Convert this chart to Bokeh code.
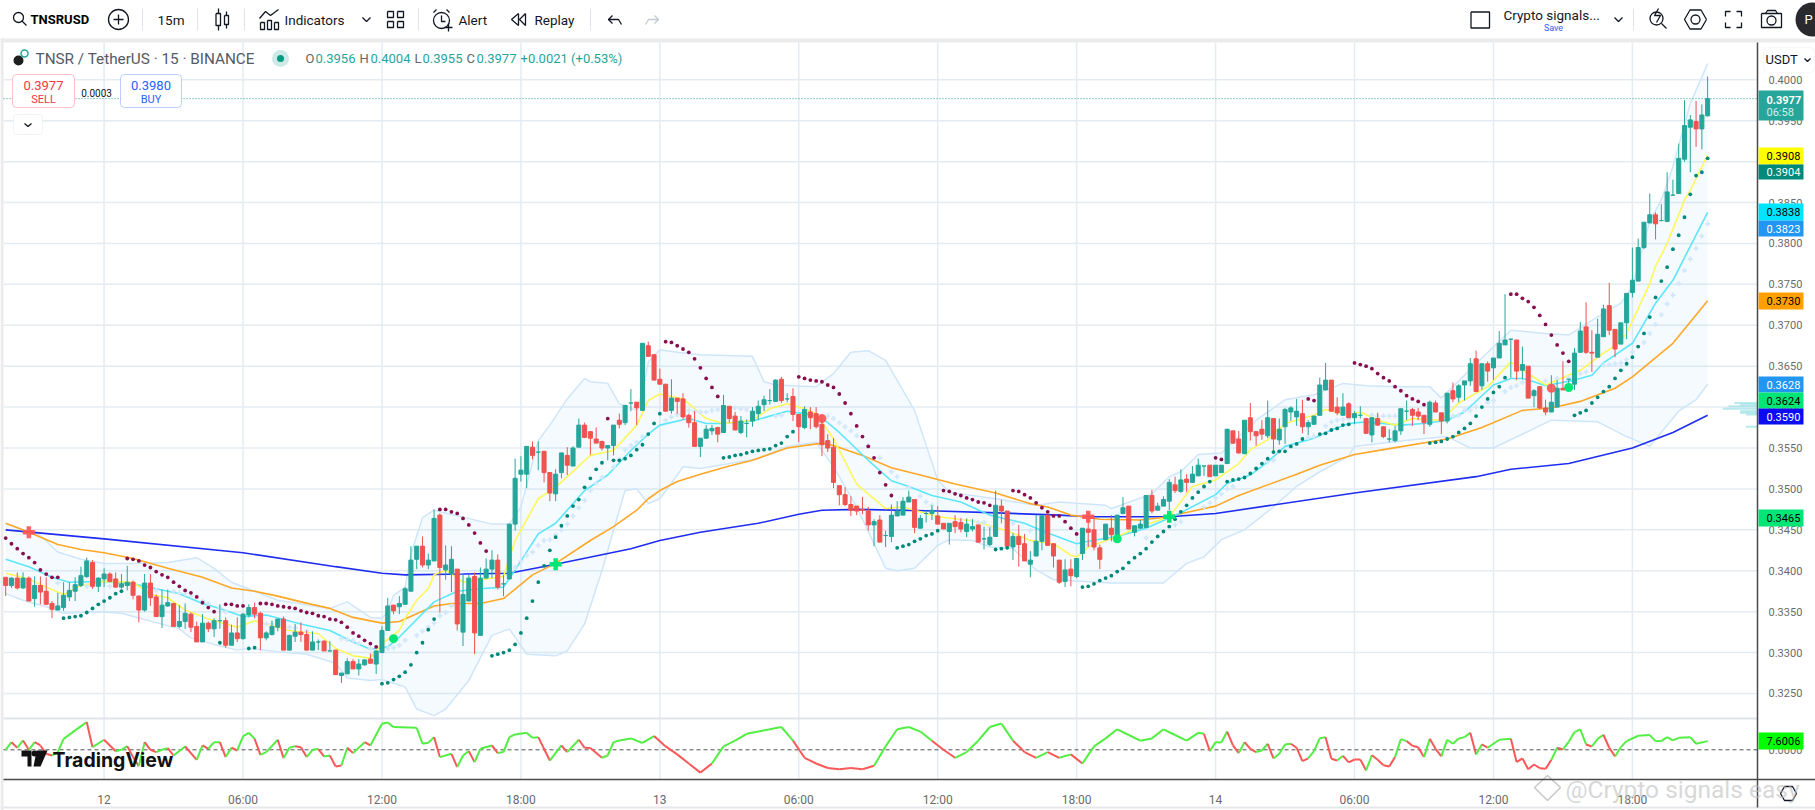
from bokeh.plotting import figure
from bokeh.models import Range1d, FixedTicker, LinearAxis, BoxAnnotation, NumeralTickFormatter
from bokeh.core.properties import value
from bokeh.embed import file_html
from bokeh.resources import INLINE
import numpy as np

TICK = 0.0001  # all price lists below are in ticks of 0.0001 USDT
first_bar = -17  # bars are 15-minute candles; bar 0 is the 12th at 00:00

opens = [3392,3382,3391,3379,3391,3366,3382,3375,3360,3352,
3355,3368,3375,3382,3393,3410,3381,
3390,3396,3390,3380,3382,3386,3369,3352,3385,3368,
3344,3357,3360,3332,3338,3347,3332,3313,3336,3329,
3339,3339,3309,3324,3317,3346,3355,3348,3318,3322,
3331,3341,3303,3320,3325,3322,3303,3313,3314,3302,
3303,3272,3274,3289,3280,3285,3292,3286,3300,3327,
3358,3356,3359,3375,3414,3430,3407,3412,3468,3401,
3396,3402,3325,3363,3393,3321,3391,3402,3413,3384,
3390,3457,3518,3518,3551,3545,3546,3520,3494,3520,
3541,3528,3551,3578,3570,3561,3558,3550,3553,3584,
3581,3605,3606,3596,3675,3664,3634,3628,3596,3611,
3610,3590,3581,3552,3562,3571,3575,3569,3601,3589,
3569,3580,3583,3592,3603,3608,3607,3634,3610,3613,
3591,3575,3594,3592,3579,3559,3551,3504,3493,3481,
3479,3475,3473,3456,3462,3443,3442,3467,3468,3484,
3487,3452,3470,3470,3467,3458,3448,3460,3459,3448,
3451,3456,3439,3432,3442,3479,3473,3429,3442,3433,
3408,3418,3436,3468,3433,3413,3387,3402,3393,3421,
3451,3450,3428,3438,3452,3442,3470,3479,3447,3452,
3453,3492,3474,3479,3485,3505,3497,3512,3508,3516,
3528,3529,3516,3520,3531,3571,3561,3543,3587,3570,
3573,3565,3586,3560,3576,3594,3588,3592,3576,3579,
3590,3621,3633,3600,3590,3604,3587,3590,3586,3566,
3586,3576,3561,3559,3571,3595,3597,3594,3590,3579,
3605,3593,3583,3620,3612,3627,3632,3659,3626,3653,
3648,3660,3676,3683,3682,3645,3650,3614,3625,3599,
3594,3600,3623,3634,3628,3667,3698,3667,3661,3686,
3724,3695,3677,3703,3740,3754,3795,3825,3835,3828,
3827,3859,3861,3903,3942,3949,3940,3956]

highs = [3392,3392,3398,3398,3393,3393,3393,3392,3363,3373,
3386,3386,3392,3405,3416,3413,3392,
3403,3398,3398,3396,3406,3388,3370,3396,3396,3371,
3377,3377,3361,3358,3360,3349,3338,3347,3338,3342,
3359,3343,3334,3343,3348,3359,3361,3350,3326,3339,
3341,3344,3322,3335,3337,3327,3326,3316,3315,3314,
3303,3275,3293,3292,3292,3292,3299,3302,3332,3367,
3358,3369,3380,3430,3430,3442,3421,3475,3470,3431,
3430,3402,3395,3395,3398,3404,3415,3425,3420,3395,
3457,3537,3540,3552,3558,3558,3546,3520,3524,3544,
3551,3552,3586,3581,3570,3575,3559,3553,3578,3592,
3603,3622,3606,3678,3680,3664,3647,3628,3634,3611,
3617,3592,3595,3562,3578,3578,3576,3615,3601,3594,
3589,3585,3600,3608,3614,3622,3634,3637,3617,3623,
3591,3601,3600,3600,3590,3567,3562,3504,3502,3491,
3479,3490,3478,3463,3468,3449,3481,3485,3490,3498,
3487,3468,3474,3480,3479,3458,3458,3468,3464,3464,
3463,3456,3454,3453,3498,3487,3473,3446,3456,3445,
3424,3468,3468,3468,3433,3413,3414,3414,3415,3452,
3471,3464,3432,3457,3468,3468,3490,3479,3455,3462,
3492,3499,3483,3491,3512,3515,3524,3518,3528,3537,
3528,3529,3529,3529,3573,3571,3571,3584,3605,3570,
3584,3608,3586,3586,3599,3601,3610,3609,3584,3589,
3636,3654,3633,3612,3617,3606,3595,3601,3587,3587,
3593,3576,3573,3577,3598,3608,3599,3599,3590,3608,
3608,3593,3617,3630,3628,3632,3660,3669,3653,3656,
3660,3693,3738,3683,3682,3674,3650,3622,3625,3609,
3639,3633,3656,3634,3672,3704,3728,3694,3708,3725,
3752,3695,3703,3739,3795,3806,3826,3861,3838,3848,
3887,3878,3922,3975,3957,3974,3970,4004]

lows = [3369,3379,3377,3378,3363,3356,3359,3359,3342,3352,
3351,3363,3363,3380,3391,3378,3374,
3380,3386,3379,3378,3376,3365,3337,3350,3357,3344,
3330,3356,3332,3330,3329,3325,3313,3313,3325,3319,
3329,3306,3309,3313,3316,3343,3342,3303,3315,3321,
3326,3303,3303,3313,3313,3303,3303,3303,3302,3302,
3273,3263,3274,3280,3272,3284,3287,3274,3300,3327,
3347,3347,3359,3375,3402,3404,3402,3412,3349,3389,
3374,3327,3308,3363,3298,3321,3391,3391,3377,3369,
3390,3449,3509,3501,3536,3523,3508,3485,3485,3513,
3517,3528,3551,3562,3542,3556,3547,3535,3541,3574,
3578,3595,3578,3596,3662,3633,3628,3595,3592,3592,
3585,3575,3552,3539,3561,3566,3557,3569,3581,3572,
3567,3563,3576,3584,3595,3603,3607,3605,3606,3583,
3557,3573,3573,3574,3540,3545,3501,3480,3479,3467,
3468,3469,3449,3430,3435,3429,3435,3467,3468,3484,
3446,3452,3459,3462,3457,3451,3432,3446,3447,3441,
3448,3435,3426,3430,3442,3458,3430,3413,3405,3412,
3392,3418,3425,3431,3404,3384,3380,3381,3391,3413,
3429,3425,3402,3437,3436,3442,3469,3451,3442,3452,
3453,3470,3474,3479,3474,3495,3495,3496,3508,3516,
3516,3515,3516,3520,3531,3555,3543,3543,3559,3553,
3560,3562,3546,3554,3555,3583,3577,3568,3566,3579,
3590,3621,3595,3590,3590,3587,3579,3586,3567,3557,
3577,3562,3557,3557,3566,3584,3577,3584,3567,3576,
3594,3567,3580,3606,3606,3608,3626,3619,3621,3631,
3633,3660,3676,3636,3633,3634,3611,3600,3598,3590,
3594,3600,3621,3621,3621,3667,3665,3643,3661,3686,
3688,3661,3677,3683,3734,3754,3793,3825,3805,3827,
3826,3858,3861,3900,3887,3918,3915,3955]

closes = [3382,3391,3379,3391,3363,3382,3374,3359,3353,3357,
3370,3376,3383,3394,3412,3381,3391,
3396,3387,3380,3384,3386,3370,3352,3385,3367,3344,
3358,3361,3332,3338,3348,3331,3313,3336,3329,3339,
3339,3309,3324,3317,3347,3355,3347,3318,3324,3332,
3341,3303,3321,3325,3322,3303,3313,3313,3302,3302,
3273,3275,3289,3280,3286,3291,3287,3302,3327,3357,
3351,3360,3378,3413,3430,3407,3413,3464,3404,3407,
3414,3335,3371,3391,3324,3391,3402,3413,3380,3384,
3457,3513,3523,3552,3541,3545,3520,3495,3518,3544,
3529,3550,3578,3563,3562,3556,3550,3553,3578,3579,
3602,3605,3599,3678,3662,3633,3628,3595,3611,3607,
3588,3581,3552,3562,3573,3574,3567,3602,3586,3572,
3583,3580,3595,3601,3609,3608,3633,3608,3610,3591,
3576,3597,3587,3576,3554,3550,3508,3493,3481,3474,
3473,3474,3456,3460,3435,3443,3468,3473,3485,3490,
3453,3464,3470,3474,3457,3451,3458,3454,3451,3457,
3454,3435,3439,3441,3480,3473,3430,3442,3432,3412,
3413,3436,3467,3431,3418,3386,3401,3394,3415,3452,
3447,3429,3414,3457,3444,3468,3477,3451,3455,3457,
3492,3473,3479,3487,3508,3498,3511,3508,3518,3529,
3528,3515,3529,3529,3573,3556,3544,3584,3570,3565,
3567,3587,3561,3573,3597,3599,3595,3576,3581,3589,
3627,3633,3595,3593,3600,3587,3592,3590,3568,3587,
3578,3564,3561,3571,3598,3595,3590,3589,3581,3606,
3594,3583,3617,3610,3626,3632,3653,3619,3653,3644,
3660,3678,3682,3683,3644,3652,3611,3620,3599,3594,
3606,3623,3621,3634,3666,3693,3667,3666,3689,3720,
3694,3671,3703,3739,3755,3795,3826,3835,3824,3828,
3863,3859,3904,3944,3951,3940,3957,3977]

blue_bars = [-17,0,24,40,48,52,62,70,78,91,96,103,113,120,124,130,144,153,165,170,184,192,216,237,243,253,264,271,277]
blue_vals = [3450,3439,3422,3405,3397,3395,3396,3397,3408,3427,3437,3447,3458,3469,3474,3475,3473,3471,3468,3466,3466,3470,3495,3515,3524,3531,3550,3569,3590]

orange_bars = [-17,-13,-8,-4,0,5,11,17,22,26,30,34,39,43,48,51,57,60,65,69,74,78,84,88,92,94,96,99,103,108,112,118,124,126,131,136,141,147,154,160,163,167,170,172,179,183,192,196,206,210,216,221,232,238,245,250,255,261,264,271,277]
orange_vals = [3458,3447,3432,3426,3422,3415,3403,3392,3379,3375,3369,3362,3354,3343,3336,3338,3357,3360,3360,3366,3395,3409,3437,3454,3474,3488,3498,3509,3518,3528,3535,3550,3556,3553,3541,3526,3517,3506,3495,3482,3478,3468,3465,3463,3462,3465,3479,3492,3518,3529,3542,3548,3561,3575,3596,3599,3607,3623,3637,3678,3730]

yellow_bars = [-17,-13,-10,-7,-4,0,5,8,11,14,18,23,26,32,37,40,43,46,48,51,52,54,56,57,59,62,69,71,75,78,84,88,92,94,96,100,104,107,112,115,118,121,123,126,130,135,138,144,150,156,160,164,167,168,170,175,179,184,188,192,196,198,201,204,209,211,215,217,220,223,226,231,234,239,243,246,249,255,259,261,263,267,268,270,273,274,277]
yellow_vals = [3397,3390,3380,3371,3382,3387,3386,3371,3367,3352,3341,3331,3339,3327,3323,3305,3296,3293,3311,3327,3342,3364,3378,3395,3401,3386,3393,3437,3488,3502,3541,3547,3578,3608,3616,3610,3586,3580,3584,3598,3604,3598,3592,3561,3506,3476,3478,3466,3461,3449,3437,3433,3419,3417,3429,3442,3454,3466,3503,3511,3531,3548,3560,3580,3590,3597,3590,3594,3584,3578,3586,3584,3605,3625,3655,3641,3627,3645,3666,3675,3690,3751,3772,3800,3853,3865,3908]

cyan_bars = [-17,-13,-9,-6,0,5,9,13,17,20,24,28,34,39,43,46,49,51,57,61,65,69,71,75,78,83,87,91,94,96,101,104,107,112,115,118,121,124,127,132,136,139,143,148,153,159,162,165,168,170,175,180,186,192,194,198,201,204,209,212,215,218,224,228,232,235,240,243,245,247,249,254,257,259,264,268,271,277]
cyan_vals = [3414,3405,3392,3386,3387,3384,3378,3372,3360,3354,3344,3346,3335,3327,3313,3304,3307,3319,3362,3375,3378,3380,3401,3445,3458,3498,3517,3547,3567,3578,3586,3580,3580,3583,3589,3595,3592,3587,3569,3535,3510,3503,3492,3484,3468,3458,3449,3441,3433,3436,3442,3452,3471,3493,3507,3517,3533,3552,3562,3572,3580,3582,3578,3580,3584,3594,3627,3635,3635,3631,3626,3633,3639,3654,3678,3727,3755,3838]

bb_up_bars = [-17,-11,-8,-4,0,5,11,16,19,22,26,30,39,42,46,48,49,50,52,53,55,57,67,70,72,75,77,80,83,84,87,89,92,93,94,96,99,103,112,114,116,123,126,129,132,135,140,144,146,154,161,165,173,174,181,184,186,189,193,199,204,209,214,218,224,229,231,238,243,249,253,257,262,264,267,269,271,274,277]
bb_up_vals = [3458,3443,3423,3414,3409,3409,3410,3416,3403,3386,3375,3364,3354,3362,3343,3342,3350,3370,3380,3420,3465,3474,3457,3457,3478,3559,3578,3610,3635,3631,3629,3604,3596,3618,3655,3670,3667,3664,3662,3631,3627,3625,3641,3667,3669,3657,3596,3511,3496,3488,3480,3484,3480,3476,3494,3515,3521,3542,3544,3584,3609,3615,3629,3626,3625,3625,3611,3660,3694,3690,3688,3706,3727,3747,3828,3853,3894,3971,4020]

bb_lo_bars = [-17,-14,-10,-7,-1,3,13,15,19,23,25,30,35,40,42,46,48,52,54,57,59,63,67,70,73,78,80,83,86,89,90,92,94,96,98,100,103,113,118,123,126,130,135,137,140,144,146,150,153,157,161,164,174,183,187,190,193,197,202,206,210,215,216,221,226,232,236,240,250,258,263,267,272,275,277]
bb_lo_vals = [3372,3364,3356,3348,3350,3348,3329,3318,3310,3303,3305,3301,3298,3287,3269,3266,3267,3258,3231,3223,3231,3266,3321,3329,3298,3296,3302,3335,3400,3474,3498,3500,3482,3488,3507,3527,3525,3537,3552,3557,3527,3478,3403,3400,3403,3431,3438,3437,3429,3427,3401,3389,3385,3385,3409,3417,3438,3450,3478,3503,3521,3540,3552,3556,3560,3564,3550,3550,3584,3582,3564,3552,3595,3609,3628]

sar_red_bars = [-17,-16,-15,-14,-13,-12,-11,-10,-9,-8,4,5,6,7,8,9,10,11,12,13,14,15,16,17,18,19,21,22,23,24,27,28,29,30,31,32,33,34,35,36,37,38,39,40,41,42,43,44,45,46,47,58,59,60,61,62,63,64,65,66,87,97,98,99,100,101,102,103,104,105,106,120,121,122,123,124,125,126,127,128,129,130,131,132,133,134,135,136,145,146,147,148,149,150,151,152,153,157,158,159,160,161,162,163,164,165,166,167,168,192,193,208,209,216,217,218,219,220,221,222,223,224,225,226,227,228,243,244,245,246,247,248,249,250,251,252,253]
sar_red_vals = [3440,3433,3427,3421,3416,3410,3401,3396,3392,3392,3415,3414,3412,3407,3404,3399,3395,3392,3386,3381,3376,3373,3368,3361,3355,3350,3359,3359,3357,3357,3360,3360,3359,3357,3356,3355,3354,3351,3349,3348,3345,3344,3341,3340,3337,3331,3324,3320,3315,3311,3307,3475,3475,3472,3470,3464,3456,3446,3434,3424,3586,3680,3679,3675,3671,3667,3659,3648,3635,3624,3613,3637,3635,3633,3632,3631,3627,3624,3616,3605,3592,3577,3564,3552,3538,3520,3505,3492,3498,3497,3494,3492,3489,3487,3484,3483,3480,3498,3497,3493,3489,3483,3477,3472,3467,3467,3460,3452,3445,3538,3536,3610,3608,3654,3652,3650,3647,3641,3636,3632,3625,3620,3614,3610,3607,3603,3738,3738,3733,3729,3722,3712,3701,3688,3676,3666,3656]

sar_teal_bars = [-7,-6,-5,-4,-3,-2,-1,0,1,2,3,20,25,26,48,49,50,51,52,53,54,55,56,57,67,68,69,70,71,72,73,74,75,76,77,78,79,80,81,82,83,84,85,86,88,89,90,91,92,93,94,95,96,107,108,109,110,111,112,113,114,115,116,117,118,119,137,138,139,140,141,142,143,144,154,155,156,169,170,171,172,173,174,175,176,177,178,179,180,181,182,183,184,185,186,187,188,189,190,191,194,195,196,197,198,199,200,201,202,203,204,205,206,207,210,211,212,213,214,215,229,230,231,232,233,234,235,236,237,238,239,240,241,242,254,255,256,257,258,259,260,261,262,263,264,265,266,267,268,269,270,271,272,273,274,275,276,277]
sar_teal_vals = [3342,3343,3344,3345,3349,3354,3359,3363,3367,3372,3375,3312,3305,3306,3262,3263,3267,3271,3276,3285,3300,3312,3328,3341,3296,3298,3300,3303,3310,3324,3342,3363,3386,3406,3425,3441,3455,3467,3479,3487,3502,3513,3524,3532,3535,3535,3537,3541,3548,3554,3567,3580,3592,3538,3539,3541,3542,3544,3546,3547,3548,3549,3553,3556,3564,3570,3428,3430,3432,3436,3439,3443,3445,3449,3426,3427,3428,3380,3381,3384,3388,3391,3394,3399,3403,3410,3416,3421,3427,3435,3442,3448,3454,3463,3472,3480,3489,3496,3503,3509,3509,3511,3512,3514,3519,3525,3531,3537,3545,3546,3546,3552,3555,3561,3567,3568,3572,3574,3578,3579,3556,3557,3558,3561,3564,3569,3574,3580,3589,3600,3610,3618,3625,3636,3590,3593,3596,3605,3612,3619,3625,3635,3645,3653,3661,3674,3690,3710,3734,3754,3771,3793,3810,3832,3860,3883,3887,3904]

plus_bars = [-8,-3,-2,1,9,12,13,14,15,17,18,20,21,28,29,32,33,35,41,42,43,44,46,49,50,51,52,54,55,56,57,58,59,60,71,72,73,74,75,76,77,78,79,80,81,82,83,84,85,86,88,89,90,91,92,93,97,98,99,100,101,102,103,104,105,106,109,110,111,116,117,125,126,127,128,129,130,132,134,136,137,139,141,142,143,148,150,151,152,153,157,160,162,163,170,180,185,186,190,191,192,193,194,195,201,202,208,209,211,212,213,214,215,219,220,221,222,223,233,234,235,236,237,239,240,242,243,244,245,249,251,253,255,256,259,260,261,262,263,264,266,267,268,269,270,271,272,273,274,275,276,277]
plus_vals = [3385,3381,3381,3381,3376,3375,3373,3372,3369,3363,3360,3355,3350,3335,3335,3331,3330,3326,3317,3316,3315,3311,3305,3305,3306,3309,3315,3321,3326,3331,3336,3345,3349,3357,3404,3412,3419,3423,3431,3437,3438,3444,3450,3457,3467,3477,3486,3498,3507,3514,3527,3536,3548,3553,3557,3564,3584,3588,3591,3594,3596,3595,3594,3594,3596,3597,3599,3598,3597,3589,3590,3589,3586,3581,3576,3571,3565,3553,3538,3521,3515,3502,3491,3484,3480,3462,3461,3459,3459,3453,3458,3449,3445,3441,3432,3440,3456,3460,3478,3483,3489,3494,3500,3503,3533,3535,3563,3564,3577,3582,3584,3585,3586,3590,3589,3589,3589,3589,3589,3590,3596,3596,3600,3606,3608,3619,3624,3626,3630,3632,3635,3636,3641,3643,3651,3652,3653,3654,3658,3667,3679,3690,3701,3713,3726,3737,3751,3767,3781,3794,3809,3824]

sig_plus_red = ([-13,170],[3447,3466])
sig_plus_green = ([78,184],[3408,3466])
sig_dot_red = ([124,250],[3586,3623])
sig_dot_green = ([50,175,253],[3317,3439,3624])

vp_levels = [3605,3603,3601,3598,3595,3593,3591,3576]
vp_lengths = [4,3,5,6,3,3,2,2]

osc_bars = [-17,-16,-15,-14,-13,-12,-11,-10,-9,-8,-7,-5,-3,-2,0,2,3,4,5,6,7,8,9,10,11,12,14,16,17,18,19,20,21,22,23,24,25,26,27,28,30,31,32,33,34,35,36,37,38,39,40,41,42,43,45,46,48,49,50,54,55,56,57,58,60,61,62,63,64,65,67,68,69,70,71,73,74,75,77,79,80,82,83,84,86,87,88,89,
91,93,95,97,99,101,103,105,107,109,111,113,115,117,119,121,123,125,127,129,131,133,135,137,139,141,143,145,147,149,151,153,155,157,159,161,163,165,167,169,171,173,175,177,179,181,183,185,187,
189,190,191,192,193,194,195,196,197,198,199,200,201,202,203,204,205,206,207,208,209,210,211,212,213,214,215,216,217,218,219,220,221,222,223,224,225,226,227,228,229,230,231,232,233,234,235,236,237,238,239,241,243,244,245,246,247,248,249,250,251,252,253,254,255,256,257,258,259,260,261,262,263,265,267,268,269,270,271,272,274,275,277]
osc_vals = [0,6.7,1.8,8.2,0,6.7,3.8,-3.5,-5,-2,9.6,17,24.3,2.3,8.8,-1.2,0,3.2,-6.4,-14.3,6.7,0,-2,0,1.5,-5,2.9,-8.8,3.8,.9,6.7,6.7,-6.4,1.8,-.6,11.7,14.9,9.6,-4.4,-2,8.8,-7.3,1.8,3.2,2.3,-6.4,0,.6,-5.8,-5,-14.6,-13.7,1.8,-2.9,6.7,3.8,22.8,24,19.9,19.3,5.3,6.1,11.1,-6.4,-3.5,-15.2,-5,-1.2,-10.8,.9,3.8,-2.9,-2,11.1,13.5,14.9,10.5,11.1,-9.4,3.8,-2,8.8,1.8,1.5,-7,-5,6.7,8.2,
10,6,12,3,-4,-12,-20,-12,3,8,14,16,18,20,8,-7,-12,-16,-17,-16,-17,-14,3,18,20,16,8,0,-7,-2,8,20,23,8,-2,-7,-2,-7,-4,-12,3,10,18,13,8,10,18,13,8,
14.9,14,-1.2,6.7,6.4,16,3.8,-2.9,6.7,.9,-2,-.6,5.3,-7.6,-3.5,4.7,5.3,1.8,-9.9,-7.6,-1.2,10.2,11.1,-7.9,-9.4,-5.3,-11.1,-8.5,-8.5,-18.1,-4.7,-8.8,-13.5,-14.6,-6.4,9.4,7.6,3.5,2.3,-6.4,9.6,.9,-5.8,8.8,5.3,9.9,11.1,14.9,-4.1,4.7,1.8,8.8,9.6,-10.8,-7.6,-17,-12.9,-16.1,-16.7,-8.8,1.8,.3,7,15.5,17.8,4.7,2.9,9.6,13.2,1.8,-5.8,2.3,7.6,12.3,12.9,7.6,7.6,11.1,8.2,10.5,11.1,5.3,7.6]

price_ticks = [3250,3300,3350,3400,3450,3500,3550,3600,3650,3700,3750,3800,3850,3900,3950,4000]
time_ticks = [0,24,48,72,96,120,144,168,192,216,240,264]
time_labels = ["12","06:00","12:00","18:00","13","06:00","12:00","18:00","14","06:00","12:00","18:00"]

for s in (opens, highs, lows, closes):
    assert len(s) == 295, len(s)

GREEN, RED = "#26a69a", "#ef5350"
GRID = "#e4ecf2"
FONT = "Roboto"
INK = "#131722"

# photo pixels to chart coordinates, used only for the interface furniture
def X(px): return (px - 103.6) / 5.789
def Y(px): return 0.4 - (px - 79.3) * 1.2221e-4
def OY(px): return (749.3 - px) / 1.14
def P(v): return np.asarray(v, float) * TICK

p = figure(width=1815, height=810, x_range=Range1d(X(0), X(1815)), y_range=Range1d(Y(810), Y(0)),
           output_backend="svg", toolbar_location=None, min_border=0, x_axis_location=None, y_axis_location=None)
p.extra_y_ranges = {"osc": Range1d(OY(810), OY(0))}
p.grid.visible = False
p.outline_line_color = None

def text(px, py, s, size, color, align="left", style="normal", font=FONT, alpha=1.0):
    r = p.text([X(px)], [Y(py)], text=[s], text_font=value(font), text_font_size=f"{size}px", text_color=color,
               text_align=align, text_baseline="middle", text_font_style=style, text_alpha=alpha)
    r.level = "overlay"
def tl(xs, ys, color=INK, w=1.3):
    p.line([X(v) for v in xs], [Y(v) for v in ys], line_color=color, line_width=w)
def tbox(l, r, t, b, color=INK, w=1.3):
    tl([l, r, r, l, l], [t, t, b, b, t], color, w)
def tcirc(x, y, d, color=INK, w=1.3, fill=None):
    p.scatter([X(x)], [Y(y)], marker="circle", size=d, line_color=color, line_width=w, fill_color=fill)
def box(l, r, t, b, fill, line=None, radius=0):
    p.add_layout(BoxAnnotation(left=X(l), right=X(r), top=Y(t), bottom=Y(b), fill_color=fill, fill_alpha=1,
                               line_color=line, border_radius=radius, level="annotation"))

# page furniture: grey bands
p.quad(left=[X(0)], right=[X(1815)], top=[Y(38)], bottom=[Y(42)], fill_color="#ebebeb", line_color=None)
p.quad(left=[X(0)], right=[X(3)], top=[Y(38)], bottom=[Y(810)], fill_color="#ebebeb", line_color=None)

# grid
g1 = p.segment(time_ticks, Y(42), time_ticks, Y(779), line_color=GRID, line_width=1.5)
g2 = p.segment(X(3), P(price_ticks), X(1757), P(price_ticks), line_color=GRID, line_width=1.5)
g3 = p.segment([X(3)], [Y(718)], [X(1757)], [Y(718)], line_color="#e0e3eb", line_width=2)
g4 = p.segment([X(0)], [Y(807)], [X(1815)], [Y(807)], line_color="#e6e7ea", line_width=2)
for g in (g1, g2, g3, g4):
    g.level = "underlay"

# axes
ax = LinearAxis(ticker=FixedTicker(ticks=list(P(price_ticks))), formatter=NumeralTickFormatter(format="0.0000"),
                fixed_location=X(1757), bounds=(Y(807), Y(42)))
ax2 = LinearAxis(ticker=FixedTicker(ticks=[0.0]), formatter=NumeralTickFormatter(format="0.0000"),
                 fixed_location=X(1757), y_range_name="osc", axis_line_color=None)
xa = LinearAxis(ticker=FixedTicker(ticks=time_ticks), major_label_overrides=dict(zip(time_ticks, time_labels)),
                fixed_location=Y(779), bounds=(X(3), X(1815)))
for a in (ax, ax2, xa):
    a.major_tick_line_color = None; a.minor_tick_line_color = None
    a.major_label_text_color = "#6a6a6a"; a.major_label_text_font = FONT
    a.major_label_text_font_size = "11px"
xa.major_label_text_font_size = "12px"
ax.axis_line_color = "#4a4a4a"; ax.axis_line_width = 1.5
xa.axis_line_color = "#4a4a4a"; xa.axis_line_width = 1.5
ax.major_label_standoff = 5; ax2.major_label_standoff = 5; xa.major_label_standoff = 7
p.add_layout(ax, "right"); p.add_layout(ax2, "right"); p.add_layout(xa, "below")

# toolbar
for sx in [142, 197, 244, 418, 590, 1633]:
    tl([sx, sx], [8, 30], "#e0e3eb", 1)
tcirc(18, 17, 10); tl([21.5, 26], [20.5, 25])
text(30, 19, "TNSRUSD", 13, "#000000", style="bold")
tcirc(118, 19, 20); tl([113, 123], [19, 19]); tl([118, 118], [14, 24])
text(157, 19, "15m", 13.5, INK)
tbox(215.5, 220, 13, 25); tl([218, 218], [8, 13]); tl([218, 218], [25, 30])
tbox(224, 228, 15, 24); tl([226, 226], [11, 15]); tl([226, 226], [24, 28])
tl([259, 265, 270, 278], [18, 11, 15, 9])
tbox(260, 264, 22, 29); tbox(267, 271, 20, 29); tbox(274, 278, 22, 29)
text(284, 19, "Indicators", 13.5, INK)
tl([362, 366, 370], [17, 21, 17])
for gx, gy in [(387, 11), (397, 11), (387, 21), (397, 21)]:
    tbox(gx, gx + 6, gy, gy + 6)
tcirc(441, 20, 16); tl([441, 441, 445], [15, 21, 21]); tl([433, 436], [12, 9]); tl([449, 446], [12, 9])
tl([444, 452], [27, 27]); tl([448, 448], [23, 31])
text(458, 19, "Alert", 13.5, INK)
tl([518, 511, 518, 518], [13, 19, 25, 13]); tl([525, 519, 525, 525], [13, 19, 25, 13])
text(534, 19, "Replay", 13.5, INK)
tl([612, 608, 612], [15, 19, 23]); tl([608, 618, 621], [19, 19, 24])
tl([654, 658, 654], [15, 19, 23], "#c4c8d0"); tl([658, 648, 645], [19, 19, 24], "#c4c8d0")
tbox(1470.5, 1489, 11.5, 27.5)
text(1503, 14.5, "Crypto signals...", 13.5, INK)
text(1553, 27, "Save", 9, "#2962ff", align="center")
tl([1614, 1618, 1622], [17, 21, 17])
tcirc(1656, 18, 13); tl([1661, 1666], [23, 28]); tl([1658, 1654, 1660, 1656], [8, 15, 15, 22])
tl([1706, 1700.5, 1689.5, 1684, 1689.5, 1700.5, 1706], [19, 28.5, 28.5, 19, 9.5, 9.5, 19]); tcirc(1695, 19, 9)
for cx, sgn in [(1725, 1), (1741, -1)]:
    tl([cx + sgn * 5, cx, cx], [11, 11, 16]); tl([cx, cx, cx + sgn * 5], [22, 27, 27])
tbox(1761, 1781, 13, 27); tl([1765, 1767, 1775, 1777], [13, 10, 10, 13]); tcirc(1771, 20, 9)
p.scatter([X(1812)], [Y(19)], marker="circle", size=34, fill_color="#2a2a2e", line_color=None)
text(1804, 19, "P", 13, "#ffffff")

# indicators
ux = np.array(bb_up_bars); lx = np.array(bb_lo_bars)
p.patch(np.concatenate([ux, lx[::-1]]), np.concatenate([P(bb_up_vals), P(bb_lo_vals)[::-1]]),
        fill_color="#2196f3", fill_alpha=0.05, line_color=None)
p.line(bb_up_bars, P(bb_up_vals), line_color="#cfe6fa", line_width=1.5)
p.line(bb_lo_bars, P(bb_lo_vals), line_color="#cfe6fa", line_width=1.5)
p.hbar(y=P(vp_levels), left=[X(1757) - v for v in vp_lengths], right=X(1757), height=0.00025,
       fill_color="#9adfe6", line_color=None, fill_alpha=0.7)
p.line(blue_bars, P(blue_vals), line_color="#1f2df2", line_width=1.6)
p.line(orange_bars, P(orange_vals), line_color="#ffa726", line_width=1.6)
p.line(cyan_bars, P(cyan_vals), line_color="#5ce6fb", line_width=1.6)
p.line(yellow_bars, P(yellow_vals), line_color="#fff75a", line_width=1.6)
p.scatter(plus_bars, P(plus_vals), marker="plus", size=5, fill_color="#d3e8fb", line_color=None)

# candles
bars = np.arange(first_bar, first_bar + len(opens))
o, h, l, c = P(opens), P(highs), P(lows), P(closes)
colors = [GREEN if cc >= oo else RED for oo, cc in zip(opens, closes)]
p.segment(bars, h, bars, l, line_color=colors, line_width=1)
p.vbar(x=bars, width=0.7, top=np.maximum(o, c), bottom=np.minimum(o, c), fill_color=colors, line_color=colors, line_width=1)

p.scatter(sar_red_bars, P(sar_red_vals), marker="circle", size=3.8, fill_color="#880e4f", line_color=None)
p.scatter(sar_teal_bars, P(sar_teal_vals), marker="circle", size=3.8, fill_color="#00897b", line_color=None)
p.scatter(sig_plus_red[0], P(sig_plus_red[1]), marker="plus", size=12, fill_color="#ff5252", fill_alpha=0.9, line_color=None)
p.scatter(sig_plus_green[0], P(sig_plus_green[1]), marker="plus", size=12, fill_color="#00e676", line_color=None)
p.scatter(sig_dot_red[0], P(sig_dot_red[1]), marker="circle", size=9, fill_color="#ff5252", fill_alpha=0.9, line_color=None)
p.scatter(sig_dot_green[0], P(sig_dot_green[1]), marker="circle", size=9, fill_color="#00e676", line_color=None)

last = closes[-1] * TICK
p.line([X(3), X(1757)], [last, last], line_color=GREEN, line_dash="1 2", line_width=1)

# header
p.scatter([X(18)], [Y(60)], marker="circle", size=10, fill_color="#1e1e1e", line_color=None)
p.scatter([X(24)], [Y(53)], marker="circle", size=7, fill_color=None, line_color="#26a69a", line_width=1.5)
text(35, 58, "TNSR / TetherUS · 15 · BINANCE", 15.3, "#555a66")
p.scatter([X(280)], [Y(58)], marker="circle", size=17, fill_color="#cdeae6", line_color=None)
p.scatter([X(280)], [Y(58)], marker="circle", size=7, fill_color="#089981", line_color=None)
for sx, s, col in [(305, "O", "#666666"), (315, "0.3956", GREEN), (359, "H", "#666666"), (370, "0.4004", GREEN),
                   (414, "L", "#666666"), (422, "0.3955", GREEN), (466, "C", "#666666"), (476, "0.3977", GREEN),
                   (520, "+0.0021 (+0.53%)", GREEN)]:
    text(sx, 58, s, 13, col)
box(12, 74, 74, 107, "#ffffff", "#f23645", 4)
box(120, 181, 74, 107, "#ffffff", "#2962ff", 4)
text(43, 85, "0.3977", 13, "#f23645", "center")
text(43, 99, "SELL", 11, "#f23645", "center")
text(150.5, 85, "0.3980", 13, "#2962ff", "center")
text(150.5, 99, "BUY", 11, "#2962ff", "center")
text(96, 92, "0.0003", 10, "#131722", "center")
box(13, 42, 114, 134, "#ffffff", "#d6d8de", 3)
r = p.line([X(24), X(27.5), X(31)], [Y(123), Y(126), Y(123)], line_color=INK, line_width=1.3); r.level = "overlay"

# price tags on the scale
box(1763, 1814, 47, 72, "#ffffff", "#e6e7ea", 5)
text(1765, 59, "USDT", 13, INK)
r = p.line([X(1804), X(1807), X(1810)], [Y(58), Y(61), Y(58)], line_color=INK, line_width=1.3); r.level = "overlay"
for t, b, s, bg, fg in [(147, 164, "0.3908", "#ffff00", "#000000"), (164, 179, "0.3904", "#00897b", "#ffffff"),
                        (203, 220, "0.3838", "#00e5ff", "#000000"), (220, 236, "0.3823", "#2196f3", "#ffffff"),
                        (292, 309, "0.3730", "#ffa000", "#000000"), (376, 392, "0.3628", "#2196f3", "#ffffff"),
                        (392, 408, "0.3624", "#00e676", "#000000"), (408, 424, "0.3590", "#0b0bf5", "#ffffff"),
                        (509, 526, "0.3465", "#00e676", "#000000"), (732, 749, "7.6006", "#00ff00", "#000000")]:
    box(1758, 1803, t, b, bg)
    text(1766, (t + b) / 2, s, 11, fg)
box(1758, 1803, 90, 120, GREEN)
text(1766, 99, "0.3977", 11, "#ffffff", style="bold")
text(1766, 112, "06:58", 11, "#d4efec")

# oscillator
zero = p.line([X(3), X(1757)], [0, 0], y_range_name="osc", line_color="#555555", line_dash="4 3", line_width=1)
seg_col = ["#53ee43" if (b > a and b >= -5.5) or b > 4 else "#f85858" for a, b in zip(osc_vals[:-1], osc_vals[1:])]
p.segment(osc_bars[:-1], osc_vals[:-1], osc_bars[1:], osc_vals[1:], y_range_name="osc", line_color=seg_col, line_width=2)

# TradingView logo
p.patch([X(v) for v in (16, 31, 31, 27, 27, 21, 21, 16)], [Y(v) for v in (750, 750, 766, 766, 756, 756, 750, 750)], fill_color="#111111", line_color=None)
p.patch([X(v) for v in (36, 47, 40, 33)], [Y(v) for v in (750, 750, 766, 766)], fill_color="#111111", line_color=None)
p.scatter([X(34)], [Y(753)], marker="circle", size=6, fill_color="#111111", line_color=None)
text(52, 759, "TradingView", 19.5, "#111111", style="bold", font="Inter")

# photo credit
text(1565, 789, "@Crypto signals easy", 24.5, "#bdbdbd", alpha=0.6)
tl([1534, 1547, 1560, 1547, 1534], [787, 775, 787, 800, 787], "#c8c8c8", 1.5)
tl([1780, 1784, 1792, 1796, 1792, 1784, 1780], [793, 786, 786, 793, 800, 800, 793], INK, 1.3)

open("out.html", "w").write(file_html(p, INLINE))
